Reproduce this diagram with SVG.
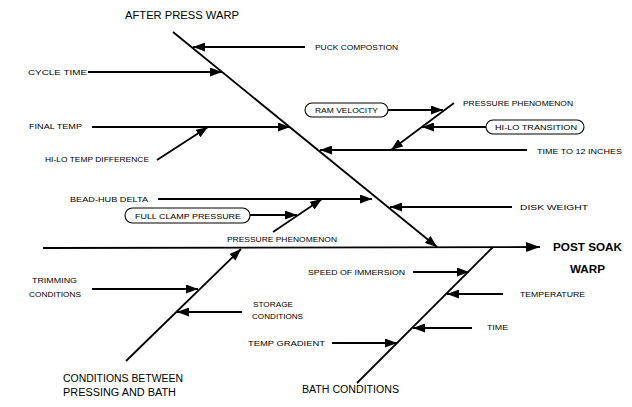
<svg xmlns="http://www.w3.org/2000/svg" width="632" height="407" viewBox="0 0 632 407">
<style>
text{font-family:"Liberation Sans",Arial,sans-serif;fill:#000;font-size:8px}
.t{font-size:10px}
.b{font-size:10.5px;font-weight:bold}
.c line{stroke:#000;stroke-width:1.8;fill:none}
.box{fill:#fff;stroke:#000;stroke-width:1.1}
</style>
<defs>
<marker id="a" markerUnits="userSpaceOnUse" markerWidth="12" markerHeight="9" refX="12" refY="4.5" orient="auto"><path d="M0,0 L12,4.5 L0,9 z" fill="#000"/></marker>
<marker id="big" markerUnits="userSpaceOnUse" markerWidth="14" markerHeight="10" refX="14" refY="5" orient="auto"><path d="M0,0 L14,5 L0,10 z" fill="#000"/></marker>
</defs>
<g class="c" id="connectors">
<line x1="43" y1="248" x2="540" y2="247" marker-end="url(#big)"/>
<line x1="173" y1="32" x2="437" y2="247" marker-end="url(#a)"/>
<line x1="126" y1="361" x2="241" y2="249" marker-end="url(#a)"/>
<line x1="357" y1="383" x2="493" y2="247"/>
<line x1="305" y1="47" x2="193" y2="47" marker-end="url(#a)"/>
<line x1="88" y1="72" x2="222" y2="72" marker-end="url(#a)"/>
<line x1="92" y1="127" x2="290" y2="127" marker-end="url(#a)"/>
<line x1="157" y1="160" x2="208" y2="127" marker-end="url(#a)"/>
<line x1="388" y1="110" x2="443" y2="110" marker-end="url(#a)"/>
<line x1="454" y1="103" x2="391" y2="150" marker-end="url(#a)"/>
<line x1="486" y1="127" x2="422" y2="127" marker-end="url(#a)"/>
<line x1="527" y1="150" x2="320" y2="150" marker-end="url(#a)"/>
<line x1="158" y1="199" x2="372" y2="199" marker-end="url(#a)"/>
<line x1="250" y1="215" x2="297" y2="215" marker-end="url(#a)"/>
<line x1="273" y1="232" x2="322" y2="199" marker-end="url(#a)"/>
<line x1="512" y1="207" x2="390" y2="207" marker-end="url(#a)"/>
<line x1="92" y1="289" x2="198" y2="289" marker-end="url(#a)"/>
<line x1="242" y1="312" x2="177" y2="312" marker-end="url(#a)"/>
<line x1="413" y1="272" x2="469" y2="272" marker-end="url(#a)"/>
<line x1="503" y1="294" x2="447" y2="294" marker-end="url(#a)"/>
<line x1="472" y1="328" x2="413" y2="328" marker-end="url(#a)"/>
<line x1="332" y1="343" x2="397" y2="343" marker-end="url(#a)"/>
</g>
<g id="after-press-warp"><text class="t" x="125" y="19" textLength="114" lengthAdjust="spacingAndGlyphs">AFTER PRESS WARP</text></g>
<g id="puck-composition"><text x="315" y="50" textLength="83" lengthAdjust="spacingAndGlyphs">PUCK COMPOSTION</text></g>
<g id="cycle-time"><text x="28" y="75" textLength="59" lengthAdjust="spacingAndGlyphs">CYCLE TIME</text></g>
<g id="final-temp"><text x="29" y="129" textLength="53" lengthAdjust="spacingAndGlyphs">FINAL TEMP</text></g>
<g id="hi-lo-temp-difference"><text x="45" y="162" textLength="104" lengthAdjust="spacingAndGlyphs">HI-LO TEMP DIFFERENCE</text></g>
<g id="ram-velocity"><rect class="box" x="305" y="103" width="83" height="14" rx="7"/><text x="315" y="113" textLength="63" lengthAdjust="spacingAndGlyphs">RAM VELOCITY</text></g>
<g id="pressure-phenomenon-1"><text x="463" y="106" textLength="110" lengthAdjust="spacingAndGlyphs">PRESSURE PHENOMENON</text></g>
<g id="hi-lo-transition"><rect class="box" x="486" y="120" width="98" height="14" rx="7"/><text x="495" y="130" textLength="82" lengthAdjust="spacingAndGlyphs">HI-LO TRANSITION</text></g>
<g id="time-to-12-inches"><text x="537" y="154" textLength="85" lengthAdjust="spacingAndGlyphs">TIME TO 12 INCHES</text></g>
<g id="bead-hub-delta"><text x="70" y="202" textLength="78" lengthAdjust="spacingAndGlyphs">BEAD-HUB DELTA</text></g>
<g id="full-clamp-pressure"><rect class="box" x="125" y="208" width="125" height="15" rx="7.5"/><text x="135" y="219" textLength="106" lengthAdjust="spacingAndGlyphs">FULL CLAMP PRESSURE</text></g>
<g id="pressure-phenomenon-2"><text x="227" y="242" textLength="110" lengthAdjust="spacingAndGlyphs">PRESSURE PHENOMENON</text></g>
<g id="disk-weight"><text x="520" y="210" textLength="68" lengthAdjust="spacingAndGlyphs">DISK WEIGHT</text></g>
<g id="post-soak-warp"><text class="b" x="553" y="251" textLength="69" lengthAdjust="spacingAndGlyphs">POST SOAK</text><text class="b" x="570" y="273" textLength="35" lengthAdjust="spacingAndGlyphs">WARP</text></g>
<g id="trimming-conditions"><text x="32" y="283" textLength="45" lengthAdjust="spacingAndGlyphs">TRIMMING</text><text x="29" y="297" textLength="52" lengthAdjust="spacingAndGlyphs">CONDITIONS</text></g>
<g id="storage-conditions"><text x="253" y="307" textLength="40" lengthAdjust="spacingAndGlyphs">STORAGE</text><text x="252" y="319" textLength="51" lengthAdjust="spacingAndGlyphs">CONDITIONS</text></g>
<g id="temp-gradient"><text x="248" y="346" textLength="77" lengthAdjust="spacingAndGlyphs">TEMP GRADIENT</text></g>
<g id="conditions-between"><text class="t" x="63" y="382" textLength="120" lengthAdjust="spacingAndGlyphs">CONDITIONS BETWEEN</text><text class="t" x="63" y="396" textLength="113" lengthAdjust="spacingAndGlyphs">PRESSING AND BATH</text></g>
<g id="speed-of-immersion"><text x="308" y="275" textLength="97" lengthAdjust="spacingAndGlyphs">SPEED OF IMMERSION</text></g>
<g id="temperature"><text x="520" y="297" textLength="65" lengthAdjust="spacingAndGlyphs">TEMPERATURE</text></g>
<g id="time"><text x="487" y="330" textLength="21" lengthAdjust="spacingAndGlyphs">TIME</text></g>
<g id="bath-conditions"><text class="t" x="302" y="393" textLength="97" lengthAdjust="spacingAndGlyphs">BATH CONDITIONS</text></g>
</svg>
